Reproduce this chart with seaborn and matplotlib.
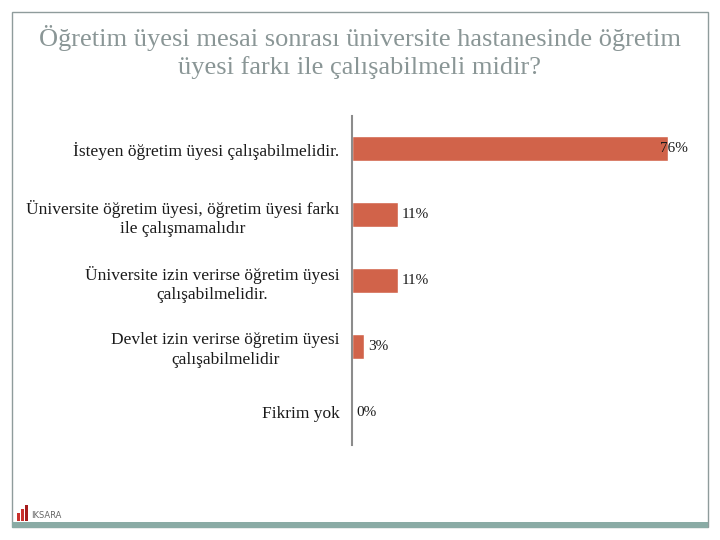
import matplotlib
matplotlib.use("Agg")
import matplotlib.pyplot as plt
import seaborn as sns
import pandas as pd
from matplotlib.patches import Rectangle

categories = [
    "İsteyen öğretim üyesi çalışabilmelidir.",
    "Üniversite öğretim üyesi, öğretim üyesi farkı\nile çalışmamalıdır",
    "Üniversite izin verirse öğretim üyesi\nçalışabilmelidir.",
    "Devlet izin verirse öğretim üyesi\nçalışabilmelidir",
    "Fikrim yok",
]
values = [76, 11, 11, 3, 0]
value_labels = ["76%", "11%", "11%", "3%", "0%"]
title = "Öğretim üyesi mesai sonrası üniversite hastanesinde öğretim\nüyesi farkı ile çalışabilmeli midir?"

df = pd.DataFrame({"cat": categories, "val": values})

sns.set_style("white")
plt.rcParams['font.family'] = ['Liberation Serif', 'DejaVu Serif']

fig = plt.figure(figsize=(7.2, 5.4), dpi=100)
# slide frame
fig.patches.append(Rectangle((12/720, 1-527/540), 696/720, 515/540, transform=fig.transFigure,
                             fill=False, edgecolor="#8f9c9c", linewidth=1.0))
fig.patches.append(Rectangle((12/720, 1-528/540), 696/720, 6/540, transform=fig.transFigure,
                             facecolor="#8aaba5", edgecolor="none"))
# logo
for i, (h, c) in enumerate([(8, "#c9302c"), (12, "#c9302c"), (16, "#a61c1c")]):
    fig.patches.append(Rectangle(((17 + i*4)/720, 1-521/540), 2.5/720, h/540,
                                 transform=fig.transFigure, facecolor=c, edgecolor="none"))
fig.text(31/720, 1-515/540, "IKSARA", fontsize=6, color="#666666", va="center",
         family="DejaVu Sans")

fig.text(0.5, 1-52/540, title, ha="center", va="center", fontsize=19, color="#8a9696",
         linespacing=1.3)

ax = fig.add_axes([352/720, 1-445/540, 333/720, 329/540])
sns.barplot(data=df, x="val", y="cat", orient="h", color="#d1634a", width=0.38,
            saturation=1, ax=ax)
ax.set_xlim(0, 80)
ax.set_xlabel("")
ax.set_ylabel("")
ax.set_xticks([])
for s in ["top", "right", "bottom"]:
    ax.spines[s].set_visible(False)
ax.spines["left"].set_color("#8c8c8c")
ax.spines["left"].set_linewidth(1.5)
ax.tick_params(axis="y", length=0, pad=9, labelsize=12.5, labelcolor="#1a1a1a")
for lbl in ax.get_yticklabels():
    lbl.set_horizontalalignment("right")
    lbl.set_multialignment("center")
    lbl.set_linespacing(1.3)

for i, (v, t) in enumerate(zip(values, value_labels)):
    if v > 50:
        ax.text(v - 2, i, t, va="center", ha="left", fontsize=11, color="#1a1a1a")
    else:
        ax.text(v + 1, i, t, va="center", ha="left", fontsize=11, color="#1a1a1a")

fig.savefig("out.png", dpi=100)
